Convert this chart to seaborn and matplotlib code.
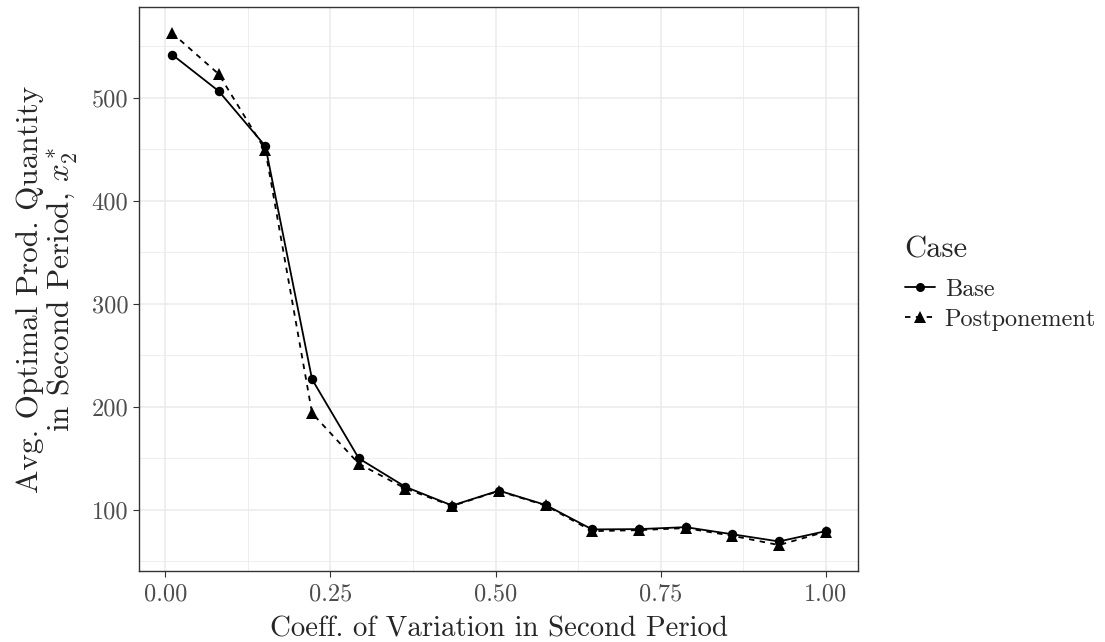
import numpy as np
import pandas as pd
import matplotlib
matplotlib.use("Agg")
import matplotlib.pyplot as plt
import seaborn as sns
from matplotlib.lines import Line2D

# coefficient of variation grid (15 points from 0.01 to 1)
cv = [0.01, 0.0807, 0.1514, 0.2221, 0.2929, 0.3636, 0.4343, 0.505,
      0.5757, 0.6464, 0.7171, 0.7879, 0.8586, 0.9293, 1.0]
base = [542, 506.5, 453, 226.5, 149.7, 122, 103.9, 118.4,
        104.5, 80.7, 81, 82.9, 76, 69, 79]
postponement = [563, 523, 449, 193.6, 144.5, 120.4, 103.5, 118,
                104, 79, 80, 82, 74.5, 65.5, 78.5]

cases = ["Base", "Postponement"]


def build_frame():
    df = pd.DataFrame({
        "cv": cv * 2,
        "qty": base + postponement,
        "Case": [cases[0]] * len(cv) + [cases[1]] * len(cv),
    })
    return df


def plot(df):
    sns.set_theme(style="white")
    plt.rcParams["font.family"] = ["cmr10", "DejaVu Serif"]
    plt.rcParams["mathtext.fontset"] = "cm"
    plt.rcParams["axes.formatter.use_mathtext"] = True

    fig = plt.figure(figsize=(11.05, 6.42), dpi=100)
    ax = fig.add_axes([0.1261, 0.1111, 0.6507, 0.8775])

    # one call per case so circles and triangles can have their own size
    sns.lineplot(data=df[df["Case"] == "Base"], x="cv", y="qty",
                 color="black", marker="o", markersize=6.8,
                 markeredgewidth=0, linewidth=1.3, ax=ax, legend=False)
    sns.lineplot(data=df[df["Case"] == "Postponement"], x="cv", y="qty",
                 color="black", marker="^", markersize=8.5,
                 markeredgewidth=0, linewidth=1.3, linestyle=(0, (3, 3)),
                 ax=ax, legend=False)

    ymin, ymax = min(base + postponement), max(base + postponement)
    pad = 0.05 * (ymax - ymin)
    ax.set_ylim(ymin - pad, ymax + pad)
    ax.set_xlim(0.01 - 0.05 * 0.99, 1.0 + 0.05 * 0.99)

    ax.set_xticks([0, 0.25, 0.5, 0.75, 1.0])
    ax.set_xticklabels(["0.00", "0.25", "0.50", "0.75", "1.00"])
    ax.set_xticks([0.125, 0.375, 0.625, 0.875], minor=True)
    ax.set_yticks([100, 200, 300, 400, 500])
    ax.set_yticklabels(["100", "200", "300", "400", "500"])
    ax.set_yticks([50, 150, 250, 350, 450, 550], minor=True)

    ax.grid(which="major", color="#EBEBEB", linewidth=1.1)
    ax.grid(which="minor", color="#EBEBEB", linewidth=0.6)
    ax.set_axisbelow(True)

    ax.tick_params(axis="both", which="major", direction="out", length=4.5,
                   width=0.8, color="#333333", labelcolor="#4D4D4D",
                   labelsize=17.5, left=True, bottom=True)
    ax.tick_params(axis="x", which="major", pad=5)
    ax.tick_params(axis="y", which="major", pad=3.5)
    ax.tick_params(which="minor", length=0)
    for s in ax.spines.values():
        s.set_color("#333333")
        s.set_linewidth(1.0)

    ax.set_xlabel("Coeff. of Variation in Second Period", fontsize=20.8,
                  labelpad=7.5)
    ax.set_ylabel("Avg. Optimal Prod. Quantity\nin Second Period, $x_2^*$",
                  fontsize=22.5, labelpad=8.5, linespacing=1.05)

    handles = [
        Line2D([], [], color="black", linestyle="-", marker="o",
               markersize=6.5, linewidth=1.3, markeredgewidth=0),
        Line2D([], [], color="black", linestyle=(0, (3, 3)), marker="^",
               markersize=8, linewidth=1.3, markeredgewidth=0),
    ]
    leg = ax.legend(handles, cases, title="Case", loc="center left",
                    bbox_to_anchor=(1.0, 0.51), frameon=False,
                    fontsize=17.5, title_fontsize=22, handlelength=1.25,
                    handletextpad=0.4, labelspacing=0.33,
                    borderaxespad=1.5)
    leg._legend_box.align = "left"
    leg._legend_box.sep = 11

    fig.savefig("out.png", dpi=100)


def main():
    df = build_frame()
    plot(df)


if __name__ == "__main__":
    main()
